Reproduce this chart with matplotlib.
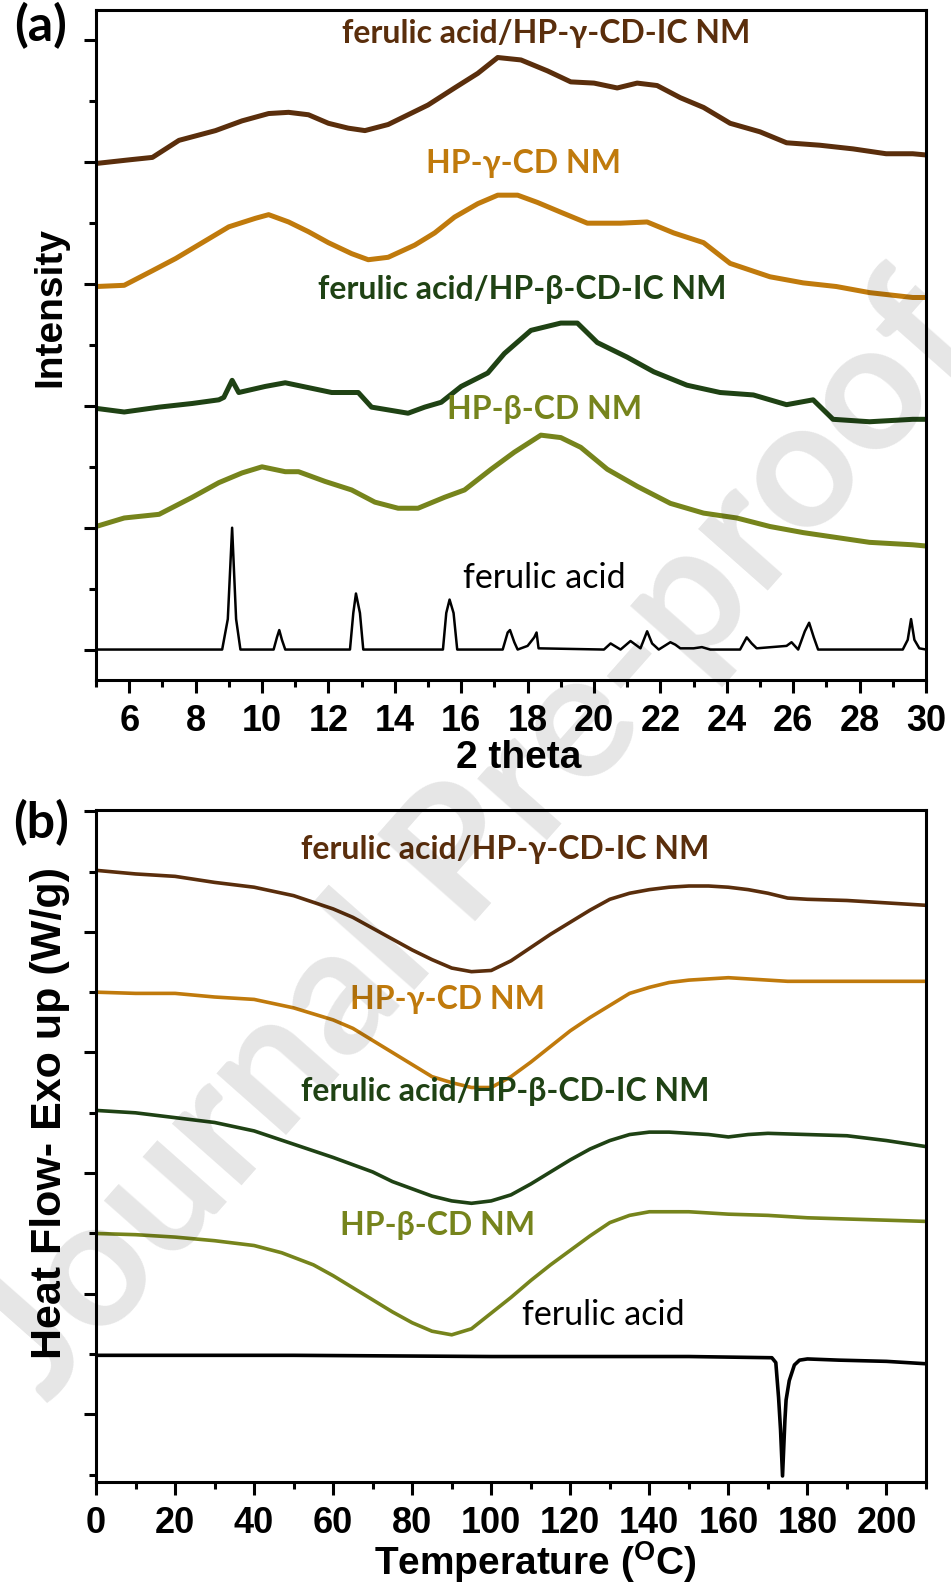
import numpy as np
import matplotlib.pyplot as plt
from matplotlib.ticker import MultipleLocator

plt.rcParams.update({
    "font.family": "Liberation Sans",
    "font.weight": "bold",
    "mathtext.fontset": "custom",
    "mathtext.rm": "Liberation Sans:bold",
    "mathtext.bf": "Liberation Sans:bold",
    "axes.linewidth": 2.2,
})

# ---------------- (a) XRD patterns (stacked, arbitrary offsets) ----------------
xrd_fa_ic_g_x = [5.0, 6.0, 6.7, 7.5, 8.6, 9.4, 10.2, 10.8, 11.4, 12.0, 12.6, 13.1, 13.8, 14.4,
                 15.0, 15.8, 16.5, 17.1, 17.8, 18.6, 19.3, 20.0, 20.7, 21.3, 21.9, 22.6, 23.3,
                 24.1, 25.0, 25.8, 26.8, 27.8, 28.8, 29.6, 30.0]
xrd_fa_ic_g_y = [3.99, 4.02, 4.04, 4.18, 4.26, 4.34, 4.40, 4.41, 4.39, 4.32, 4.28, 4.26, 4.31, 4.39,
                 4.47, 4.61, 4.73, 4.86, 4.84, 4.75, 4.66, 4.65, 4.61, 4.65, 4.63, 4.53, 4.45,
                 4.32, 4.25, 4.16, 4.14, 4.11, 4.07, 4.07, 4.06]

xrd_g_x = [5.0, 5.85, 6.7, 7.4, 8.2, 9.0, 9.8, 10.2, 10.8, 11.4, 12.0, 12.7, 13.2, 13.8, 14.6,
           15.2, 15.8, 16.5, 17.1, 17.7, 18.3, 19.0, 19.8, 20.8, 21.6, 22.4, 23.3, 24.1, 25.3,
           26.3, 27.3, 28.3, 29.6, 30.0]
xrd_g_y = [2.98, 2.99, 3.11, 3.21, 3.34, 3.47, 3.54, 3.57, 3.51, 3.43, 3.34, 3.25, 3.20, 3.22, 3.32,
           3.42, 3.55, 3.66, 3.73, 3.73, 3.67, 3.59, 3.50, 3.50, 3.51, 3.42, 3.34, 3.17, 3.06,
           3.01, 2.98, 2.93, 2.89, 2.89]

xrd_fa_ic_b_x = [5.0, 5.85, 6.9, 7.9, 8.7, 8.85, 9.1, 9.3, 10.1, 10.7, 11.4, 12.1, 12.9, 13.3,
                 14.4, 14.9, 15.4, 16.0, 16.8, 17.3, 18.1, 19.0, 19.5, 20.1, 21.0, 21.8, 22.8,
                 23.8, 24.8, 25.8, 26.6, 27.2, 28.3, 29.6, 30.0]
xrd_fa_ic_b_y = [1.98, 1.95, 1.99, 2.02, 2.05, 2.07, 2.21, 2.11, 2.16, 2.19, 2.15, 2.11, 2.11, 1.99,
                 1.94, 1.99, 2.03, 2.16, 2.27, 2.43, 2.62, 2.68, 2.68, 2.52, 2.40, 2.28, 2.17,
                 2.11, 2.09, 2.01, 2.05, 1.89, 1.87, 1.89, 1.89]

xrd_b_x = [5.0, 5.85, 6.9, 7.9, 8.7, 9.4, 10.0, 10.7, 11.1, 11.9, 12.7, 13.4, 14.1, 14.7, 15.5,
           16.1, 16.9, 17.6, 18.4, 19.0, 19.6, 20.4, 21.3, 22.3, 23.3, 24.3, 25.3, 26.3, 27.3,
           28.3, 29.6, 30.0]
xrd_b_y = [1.01, 1.08, 1.11, 1.25, 1.37, 1.45, 1.50, 1.46, 1.46, 1.38, 1.31, 1.21, 1.16, 1.16, 1.25,
           1.31, 1.48, 1.62, 1.76, 1.74, 1.66, 1.48, 1.34, 1.20, 1.12, 1.08, 1.01, 0.96, 0.92,
           0.88, 0.86, 0.85]

xrd_fa_x = [5.0, 8.8, 8.97, 9.1, 9.22, 9.35, 10.35, 10.45, 10.52, 10.6, 10.7, 12.65, 12.75, 12.83,
            12.95, 13.05, 15.45, 15.55, 15.65, 15.77, 15.88, 17.25, 17.4, 17.47, 17.6, 17.7,
            18.0, 18.2, 18.27, 18.33, 20.3, 20.5, 20.8, 21.1, 21.25, 21.4, 21.6, 21.75, 21.95,
            22.3, 22.45, 22.6, 23.0, 23.25, 23.5, 24.4, 24.6, 24.75, 24.9, 25.8, 25.95, 26.15,
            26.35, 26.48, 26.62, 26.75, 29.3, 29.45, 29.55, 29.65, 29.8, 30.0]
xrd_fa_y = [0.0, 0.0, 0.25, 1.0, 0.25, 0.0, 0.0, 0.10, 0.16, 0.08, 0.0, 0.0, 0.30, 0.46,
            0.30, 0.0, 0.0, 0.30, 0.41, 0.30, 0.0, 0.0, 0.14, 0.16, 0.06, 0.0,
            0.03, 0.10, 0.14, 0.01, 0.0, 0.05, 0.0, 0.07, 0.04, 0.01, 0.15, 0.05, 0.0,
            0.06, 0.04, 0.01, 0.01, 0.02, 0.0, 0.0, 0.10, 0.05, 0.01, 0.03, 0.06, 0.0,
            0.15, 0.22, 0.10, 0.0, 0.0, 0.08, 0.25, 0.08, 0.01, 0.0]

# ---------------- (b) DSC thermograms (stacked) ----------------
dsc_fa_ic_g_t = [0, 10, 20, 30, 40, 50, 60, 65, 70, 75, 80, 85, 90, 95, 100, 105, 110, 115, 120,
                 125, 130, 135, 140, 145, 150, 155, 160, 165, 170, 175, 180, 190, 200, 210]
dsc_fa_ic_g_h = [4.51, 4.48, 4.46, 4.41, 4.37, 4.30, 4.19, 4.12, 4.03, 3.94, 3.85, 3.77, 3.70, 3.67,
                 3.68, 3.76, 3.87, 3.98, 4.08, 4.18, 4.27, 4.32, 4.35, 4.37, 4.38, 4.38, 4.37,
                 4.35, 4.32, 4.28, 4.27, 4.26, 4.24, 4.22]

dsc_g_t = [0, 10, 20, 30, 40, 50, 60, 65, 70, 75, 80, 85, 90, 95, 100, 105, 110, 115, 120, 125,
           130, 135, 140, 145, 150, 160, 170, 175, 180, 190, 200, 210]
dsc_g_h = [3.50, 3.49, 3.49, 3.46, 3.44, 3.37, 3.27, 3.20, 3.10, 3.00, 2.90, 2.80, 2.75, 2.71,
           2.71, 2.80, 2.92, 3.05, 3.18, 3.29, 3.39, 3.49, 3.54, 3.58, 3.60, 3.62, 3.60, 3.59,
           3.59, 3.59, 3.59, 3.59]

dsc_fa_ic_b_t = [0, 10, 20, 30, 40, 50, 60, 65, 70, 75, 80, 85, 90, 95, 100, 105, 110, 115, 120,
                 125, 130, 135, 140, 145, 150, 155, 160, 165, 170, 180, 190, 200, 210]
dsc_fa_ic_b_h = [2.52, 2.50, 2.46, 2.42, 2.35, 2.24, 2.13, 2.07, 2.01, 1.93, 1.87, 1.81, 1.77, 1.75,
                 1.77, 1.82, 1.91, 2.01, 2.11, 2.20, 2.27, 2.32, 2.34, 2.34, 2.33, 2.32, 2.30,
                 2.32, 2.33, 2.32, 2.31, 2.27, 2.22]

dsc_b_t = [0, 10, 20, 30, 40, 47, 55, 60, 65, 70, 75, 80, 85, 90, 95, 100, 105, 110, 115, 120,
           125, 130, 135, 140, 150, 160, 170, 180, 190, 200, 210]
dsc_b_h = [1.50, 1.49, 1.47, 1.44, 1.40, 1.34, 1.24, 1.15, 1.05, 0.95, 0.85, 0.76, 0.69, 0.66,
           0.71, 0.84, 0.97, 1.11, 1.24, 1.36, 1.48, 1.59, 1.65, 1.68, 1.68, 1.66, 1.65, 1.63,
           1.62, 1.61, 1.60]

dsc_fa_t = [0, 50, 100, 150, 171, 172, 172.7, 173.2, 173.7, 174.3, 174.6, 175.4, 176.7, 178,
            180, 188, 200, 210]
dsc_fa_h = [0.49, 0.49, 0.48, 0.48, 0.47, 0.43, 0.14, -0.13, -0.51, -0.05, 0.12, 0.28, 0.41, 0.45,
            0.46, 0.45, 0.44, 0.42]

names = ["ferulic acid/HP-\u03b3-CD-IC NM", "HP-\u03b3-CD NM",
         "ferulic acid/HP-\u03b2-CD-IC NM", "HP-\u03b2-CD NM", "ferulic acid"]
colors = ["#5a2e0c", "#c07a0c", "#1f4214", "#76841c", "black"]

W, H = 951, 1589
fig = plt.figure(figsize=(W / 100, H / 100), dpi=100)


def fx(px):
    return px / W


def fy(py):
    return 1 - py / H


def style_axes(ax):
    for s in ax.spines.values():
        s.set_linewidth(2.2)
    ax.tick_params(which="both", direction="out", width=2.2, labelsize=26, pad=8,
                   top=False, right=False)
    ax.tick_params(which="major", length=9)
    ax.tick_params(which="minor", length=5)
    ax.set_yticklabels([])


label_font = dict(family="Lato", ha="center", va="center")

# panel (a)
ax1 = fig.add_axes([fx(96), fy(680), fx(926 - 96), fy(10) - fy(680)])
series_a = [(xrd_fa_ic_g_x, xrd_fa_ic_g_y), (xrd_g_x, xrd_g_y), (xrd_fa_ic_b_x, xrd_fa_ic_b_y),
            (xrd_b_x, xrd_b_y), (xrd_fa_x, xrd_fa_y)]
for (x, y), c in zip(series_a, colors):
    ax1.plot(x, y, color=c, lw=1.8 if c == "black" else 3.6, solid_joinstyle="round")
ax1.set_xlim(5, 30)
ax1.set_ylim(-0.25, 5.25)
ax1.set_xticks(np.arange(6, 31, 2))
ax1.xaxis.set_minor_locator(MultipleLocator(1))
ax1.yaxis.set_major_locator(MultipleLocator(1))
ax1.yaxis.set_minor_locator(MultipleLocator(0.5))
style_axes(ax1)

a_labels = [(546, 33), (523, 163), (522, 289), (545, 410), (544, 578)]
for (px, py), name, c in zip(a_labels, names, colors):
    black = c == "black"
    ax1.text(fx(px), fy(py), name, color=c, transform=fig.transFigure,
             fontweight="normal" if black else "bold", fontsize=24.5 if black else 23,
             **label_font)

fig.text(fx(50), fy(307), "Intensity", rotation=90, fontsize=28, ha="center", va="center")
fig.text(fx(519), fy(758), "2 theta", fontsize=28, ha="center", va="center")
fig.text(fx(41), fy(26), "(a)", family="Lato", fontweight="bold", fontsize=36,
         ha="center", va="center")

# panel (b)
ax2 = fig.add_axes([fx(96), fy(1482), fx(926 - 96), fy(810) - fy(1482)])
series_b = [(dsc_fa_ic_g_t, dsc_fa_ic_g_h), (dsc_g_t, dsc_g_h), (dsc_fa_ic_b_t, dsc_fa_ic_b_h),
            (dsc_b_t, dsc_b_h), (dsc_fa_t, dsc_fa_h)]
for (x, y), c in zip(series_b, colors):
    ax2.plot(x, y, color=c, lw=2.6, solid_joinstyle="round")
ax2.set_xlim(0, 210)
ax2.set_ylim(-0.56, 5.01)
ax2.set_xticks(np.arange(0, 201, 20))
ax2.xaxis.set_minor_locator(MultipleLocator(10))
ax2.yaxis.set_major_locator(MultipleLocator(1))
ax2.yaxis.set_minor_locator(MultipleLocator(0.5))
style_axes(ax2)

b_labels = [(505, 850), (447, 1000), (505, 1092), (438, 1225), (603, 1315)]
for (px, py), name, c in zip(b_labels, names, colors):
    black = c == "black"
    ax2.text(fx(px), fy(py), name, color=c, transform=fig.transFigure,
             fontweight="normal" if black else "bold", fontsize=24.5 if black else 23,
             **label_font)

fig.text(fx(50), fy(1113), "Heat Flow- Exo up (W/g)", rotation=90, fontsize=31,
         ha="center", va="center")
fig.text(fx(535), fy(1562), r"Temperature ($^{\mathbf{O}}$C)", fontsize=28,
         ha="center", va="center")
fig.text(fx(41), fy(823), "(b)", family="Lato", fontweight="bold", fontsize=36,
         ha="center", va="center")

# journal watermark, drawn on top as a faint overlay
fig.text(fx(478), fy(840), "Journal Pre-proof", family="Lato", fontsize=130,
         rotation=48.5, color="black", alpha=0.1, ha="center", va="center",
         rotation_mode="anchor")

fig.savefig("out.png", dpi=100)
